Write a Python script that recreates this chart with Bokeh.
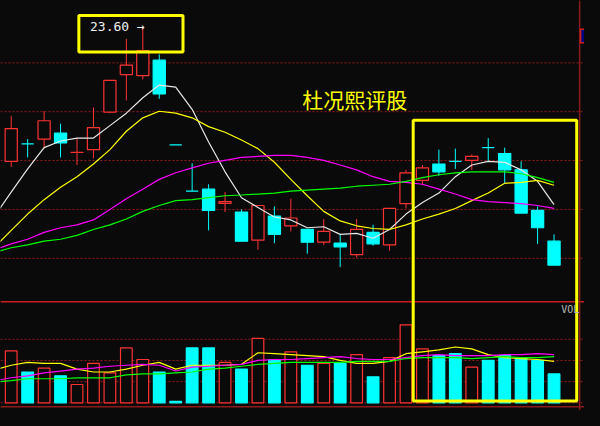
from bokeh.plotting import figure
from bokeh.models import (Range1d, Span, BoxAnnotation, Label, ColumnDataSource,
                          GlobalInlineStyleSheet)
from bokeh.embed import file_html
from bokeh.resources import INLINE

# ---------------- data ----------------
days = list(range(1, 35))
ma_days = list(range(0, 35))          # moving averages also carry the previous session
open_ = [18.12, 18.83, 19.03, 19.27, 18.48, 18.60, 20.13, 21.67, 21.63, 22.26,
         18.79, 16.90, 16.98, 16.40, 16.04, 14.89, 15.88, 15.48, 15.33, 14.81,
         14.77, 14.30, 15.21, 14.70, 16.39, 17.34, 18.01, 18.12, 18.16, 18.68,
         18.44, 17.77, 16.11, 14.85]
high = [19.98, 19.03, 20.17, 19.66, 19.07, 20.33, 21.45, 23.13, 23.60, 22.50,
        18.79, 18.04, 17.18, 16.86, 16.15, 16.31, 16.27, 16.59, 15.33, 15.76,
        15.13, 15.76, 15.52, 16.19, 17.77, 17.97, 18.60, 18.64, 18.40, 19.07,
        18.68, 18.12, 16.27, 15.13]
low = [17.89, 18.28, 18.64, 18.28, 17.97, 18.24, 20.09, 20.61, 21.47, 20.68,
       18.79, 16.90, 15.29, 16.04, 14.85, 14.50, 14.77, 15.25, 14.34, 14.70,
       13.79, 14.18, 14.66, 14.46, 16.19, 17.14, 17.53, 17.81, 17.77, 18.12,
       17.22, 16.00, 14.74, 13.87]
close = [19.46, 18.83, 19.78, 18.87, 18.49, 19.50, 21.43, 22.06, 22.65, 20.88,
         18.79, 16.90, 16.11, 16.47, 14.85, 16.31, 15.13, 15.80, 14.81, 15.25,
         14.62, 15.33, 14.74, 16.19, 17.65, 17.85, 17.69, 18.12, 18.32, 18.68,
         17.77, 16.00, 15.40, 13.87]

ma5 = [15.89, 16.86, 17.81, 18.68, 18.95, 19.07, 19.07, 19.58, 20.09, 20.72, 21.24,
       21.16, 20.25, 18.91, 17.69, 16.63, 16.23, 15.84, 15.72, 15.40, 15.44,
       15.13, 15.17, 14.97, 15.33, 15.96, 16.43, 16.82, 17.49, 17.97, 18.12,
       18.08, 17.77, 17.30, 16.35]
ma10 = [14.62, 15.29, 15.96, 16.55, 17.06, 17.49, 18.01, 18.60, 19.35, 19.90, 20.17,
        20.09, 19.90, 19.54, 19.31, 18.99, 18.64, 18.08, 17.38, 16.71, 16.07,
        15.68, 15.48, 15.37, 15.33, 15.52, 15.76, 15.96, 16.19, 16.51, 16.82,
        17.22, 17.26, 17.34, 17.14]
ma20 = [14.50, 14.74, 14.93, 15.21, 15.40, 15.52, 15.72, 16.15, 16.59, 16.98, 17.38,
        17.65, 17.85, 18.04, 18.16, 18.28, 18.32, 18.36, 18.36, 18.28, 18.16,
        17.97, 17.77, 17.49, 17.30, 17.26, 17.18, 16.98, 16.78, 16.55, 16.47,
        16.43, 16.39, 16.31, 16.19]
ma30 = [14.40, 14.58, 14.70, 14.85, 14.93, 15.09, 15.33, 15.52, 15.76, 16.07, 16.31,
        16.51, 16.55, 16.63, 16.71, 16.74, 16.78, 16.82, 16.90, 16.94, 16.98,
        17.02, 17.10, 17.14, 17.18, 17.30, 17.45, 17.57, 17.65, 17.69, 17.69,
        17.69, 17.61, 17.45, 17.26]

volume = [54000, 32000, 36000, 28000, 19000, 41000, 31000, 57000, 45000, 32000,
          1500, 57000, 57000, 42000, 35000, 67000, 45000, 53000, 39000, 41000,
          41000, 50000, 27000, 47000, 81000, 56000, 49000, 51000, 37000, 44000,
          49000, 46000, 44000, 30000]
vol_ma5 = [34400, 39000, 42000, 41000, 41000, 35000, 32000, 32000, 35000, 39000, 42000,
           35000, 39000, 39000, 39000, 40000, 52000, 51000, 50000, 49000, 48000,
           44000, 41000, 41000, 43000, 51000, 53000, 55000, 58000, 56000, 50000,
           47000, 46000, 45000, 43000]
vol_ma10 = [23000, 26000, 28000, 31000, 33000, 35000, 36000, 38000, 39000, 40000, 39000,
            33000, 37000, 38000, 39000, 40000, 44000, 45000, 45000, 46000, 47000,
            48000, 46000, 45000, 45000, 47000, 49000, 50000, 49000, 49000, 49000,
            50000, 50000, 51000, 50000]
vol_ma20 = [21500, 23000, 25000, 25000, 25000, 26000, 26000, 26000, 29000, 30000, 30000,
            31000, 32000, 35000, 36000, 38000, 40000, 41000, 42000, 42000, 42000,
            42000, 43000, 43000, 43000, 46000, 47000, 47000, 47000, 46000, 47000,
            48000, 47000, 47000, 48000]

price_grid = [14.15, 16.15, 18.15, 20.15, 22.15]
vol_grid = [0, 22000, 44000, 66000]

peak_text = "23.60 →"
title_text = "杜况熙评股"
vol_text = "VOL"

# ---------------- style ----------------
BG = "#0a0a0a"
RED = "#ff3232"
CYAN = "#00ffff"
GRID = "#9b1c1c"
YELLOW = "#ffff00"


def px_x(x):
    return (x - 11) / 16.9 + 1


def px_y(y):
    return 24.703 - 0.0394 * y


up = [c > o for o, c in zip(open_, close)]
src = ColumnDataSource(dict(
    x=days, high=high, low=low,
    body_top=[max(o, c) for o, c in zip(open_, close)],
    body_bot=[min(o, c) for o, c in zip(open_, close)],
    line_col=[RED if u else CYAN for u in up],
    fill_col=[BG if u else CYAN for u in up],
    volume=volume,
))

p = figure(width=584, height=410,
           x_range=Range1d(px_x(0), px_x(600)),
           y_range=Range1d(px_y(426), px_y(0)),
           x_axis_type=None, y_axis_type=None,
           output_backend="svg", toolbar_location=None,
           min_border=0, background_fill_color=BG, border_fill_color=BG,
           outline_line_color=None)
p.extra_y_ranges = {"vol": Range1d(-8000, 418000)}
p.stylesheets = [GlobalInlineStyleSheet(css="html, body { background-color: #0a0a0a; }")]

# grid lines
for g in price_grid:
    p.add_layout(Span(location=g, dimension="width", line_color=GRID,
                      line_dash="2 2", line_width=1, level="underlay"))
for g in vol_grid:
    p.add_layout(Span(location=g, dimension="width", line_color=GRID,
                      line_dash="2 2", line_width=1, level="underlay",
                      y_range_name="vol"))

# candles
p.segment(x0="x", y0="high", x1="x", y1="low", source=src,
          line_color="line_col", line_width=1)
p.vbar(x="x", width=0.74, top="body_top", bottom="body_bot", source=src,
       fill_color="fill_col", line_color="line_col", line_width=1.2)

# moving averages
p.line(ma_days, ma5, line_color="#e8e8e8", line_width=1.2)
p.line(ma_days, ma10, line_color=YELLOW, line_width=1.2)
p.line(ma_days, ma20, line_color="#ff00ff", line_width=1.2)
p.line(ma_days, ma30, line_color="#00ff00", line_width=1.2)

# volume
p.vbar(x="x", width=0.71, top="volume", bottom=0, source=src, y_range_name="vol",
       fill_color="fill_col", line_color="line_col", line_width=1.2)
p.line(ma_days, vol_ma5, y_range_name="vol", line_color=YELLOW, line_width=1.2)
p.line(ma_days, vol_ma10, y_range_name="vol", line_color="#ff00ff", line_width=1.2)
p.line(ma_days, vol_ma20, y_range_name="vol", line_color="#00ff00", line_width=1.2)

# frame lines
p.add_layout(Span(location=px_y(313), dimension="width", line_color="#c81e1e", line_width=1.5))
p.add_layout(Span(location=px_y(422), dimension="width", line_color="#8b1a1a", line_width=1.5))
p.add_layout(Span(location=px_x(595), dimension="height", line_color="#8b1a1a", line_width=1.5))
p.add_layout(BoxAnnotation(left=px_x(596), right=px_x(603), top=px_y(30), bottom=px_y(44),
                           fill_color="#000080", fill_alpha=1, line_color="#d02020",
                           line_alpha=1, line_width=1.5))

# highlight boxes
p.add_layout(BoxAnnotation(left=px_x(80.5), right=px_x(187.5), top=px_y(15.5),
                           bottom=px_y(53.5), fill_color=None, line_color=YELLOW,
                           line_alpha=1, line_width=3))
p.add_layout(BoxAnnotation(left=px_x(424), right=px_x(592), top=px_y(124.5),
                           bottom=px_y(416), fill_color=None, line_color=YELLOW,
                           line_alpha=1, line_width=3))

# texts
p.add_layout(Label(x=px_x(92), y=px_y(27), text=peak_text, text_color="#f0f0f0",
                   text_font="DejaVu Sans Mono", text_font_size="13px",
                   text_baseline="middle", text_align="left"))
p.add_layout(Label(x=px_x(310), y=px_y(102), text=title_text, text_color=YELLOW,
                   text_font="Noto Sans CJK SC", text_font_size="21px",
                   text_baseline="middle", text_align="left"))
p.add_layout(Label(x=px_x(576), y=px_y(321), text=vol_text, text_color="#b8b8b8",
                   text_font="DejaVu Sans Mono", text_font_size="10px",
                   text_baseline="middle", text_align="left"))

open("out.html", "w").write(file_html(p, INLINE))
